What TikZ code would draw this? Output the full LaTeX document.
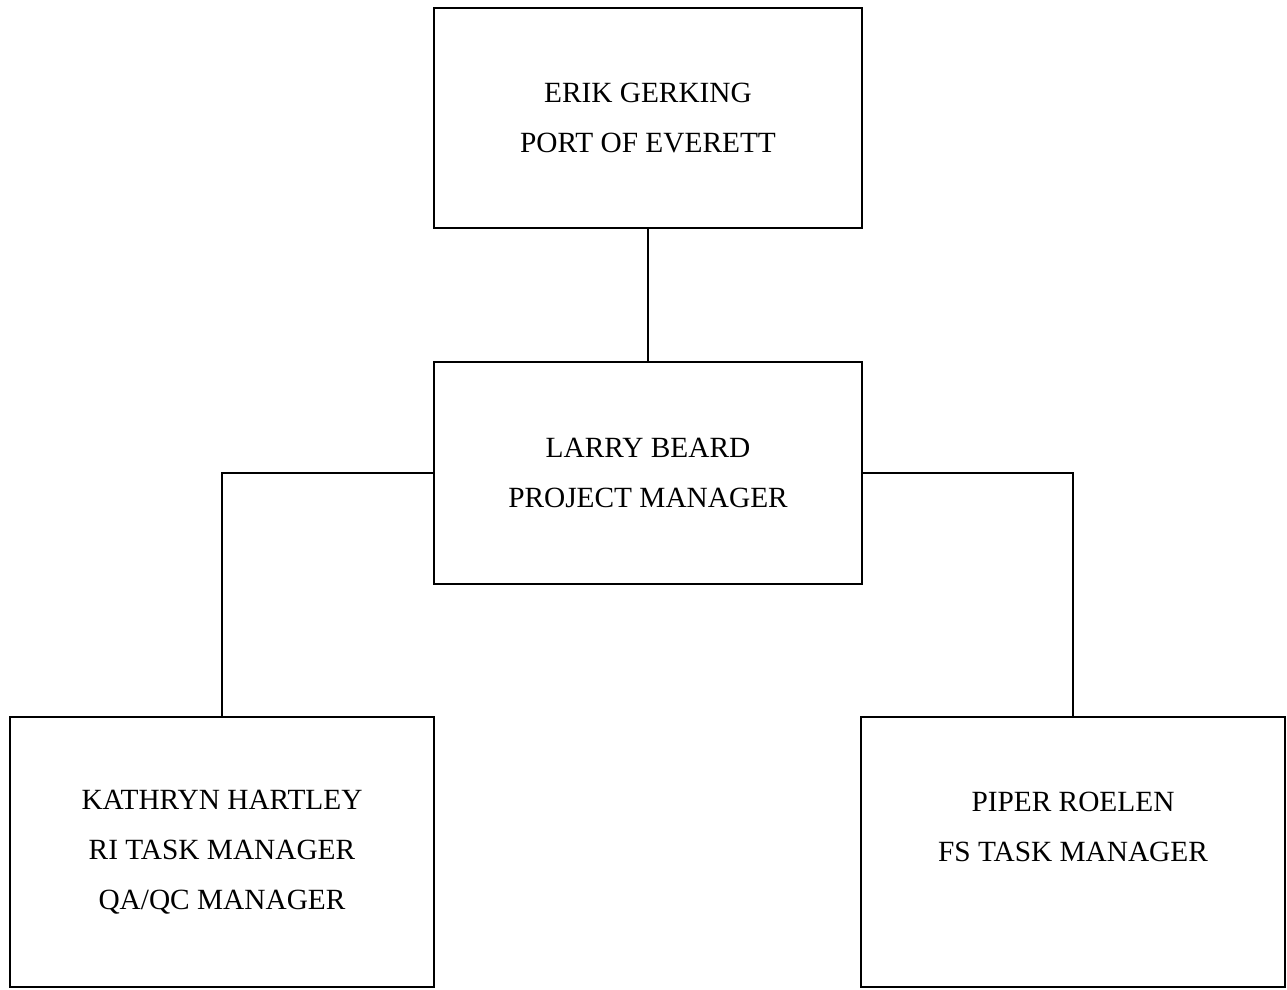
\documentclass[tikz,border=0pt]{standalone}
\usepackage{fontspec}
\setmainfont{Liberation Serif}

\tikzstyle{orgbox}=[draw, line width=1.5pt, inner sep=0pt, align=center,
  font=\fontsize{22}{37.5}\selectfont]
\tikzstyle{link}=[line width=1.5pt]

\begin{document}
\begin{tikzpicture}[x=0.75pt, y=-0.75pt]
      \useasboundingbox (0,0) rectangle (1287,989);
      \node[orgbox, minimum width=428*0.75pt, minimum height=220*0.75pt]
        (port) at (648, 118) {ERIK GERKING\\PORT OF EVERETT};
      \node[orgbox, minimum width=428*0.75pt, minimum height=222*0.75pt]
        (pm) at (648, 473) {LARRY BEARD\\PROJECT MANAGER};
      \node[orgbox, minimum width=424*0.75pt, minimum height=270*0.75pt]
        (ri) at (222, 852) {KATHRYN HARTLEY\\RI TASK MANAGER\\QA/QC MANAGER};
      \node[orgbox, minimum width=424*0.75pt, minimum height=270*0.75pt]
        (fs) at (1073, 852) {PIPER ROELEN\\FS TASK MANAGER\\\mbox{}};
      \draw[link] (port) -- (pm);
      \draw[link] (pm.west) -| (ri.north);
      \draw[link] (pm.east) -| (fs.north);
    \end{tikzpicture}
\end{document}
